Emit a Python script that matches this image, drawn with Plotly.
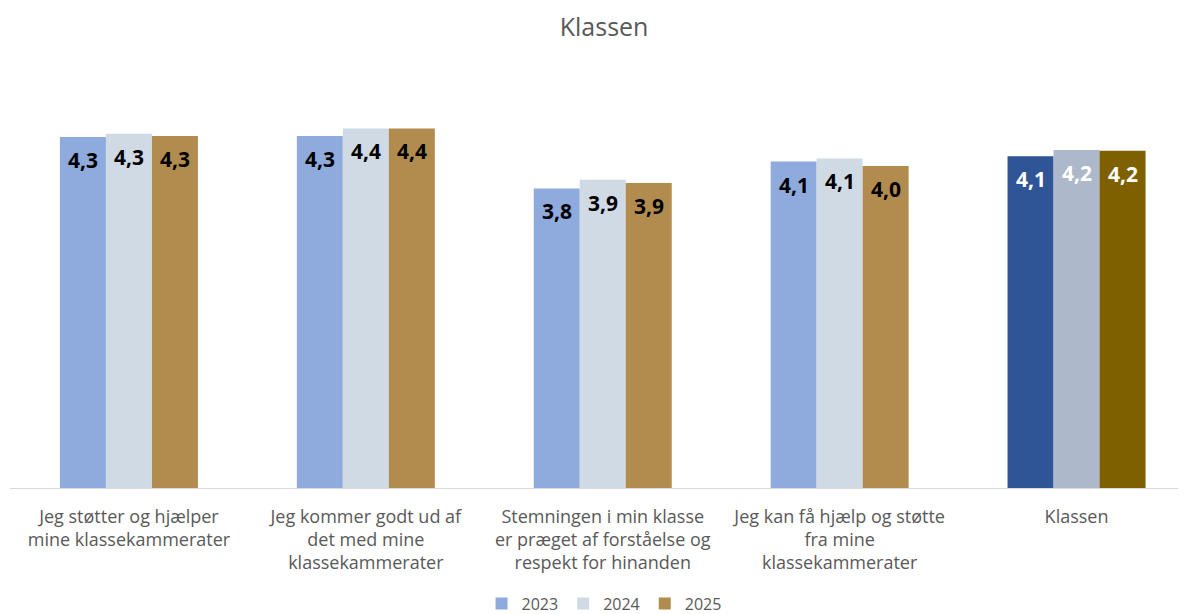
import plotly.graph_objects as go

categories = [
    "Jeg støtter og hjælper<br>mine klassekammerater",
    "Jeg kommer godt ud af<br>det med mine<br>klassekammerater",
    "Stemningen i min klasse<br>er præget af forståelse og<br>respekt for hinanden",
    "Jeg kan få hjælp og støtte<br>fra mine<br>klassekammerater",
    "Klassen",
]
years = ["2023", "2024", "2025"]
values_2023 = [4.28, 4.29, 3.80, 4.051, 4.10]
values_2024 = [4.31, 4.36, 3.88, 4.08, 4.16]
values_2025 = [4.29, 4.36, 3.851, 4.01, 4.151]

colors_main = ["#8FAADC", "#CFDAE5", "#B28C4E"]
colors_total = ["#2F5597", "#ADB9CA", "#7F6000"]

FONT = "Open Sans"
BARGAP = 0.4175

x_pos = list(range(len(categories)))
series = [values_2023, values_2024, values_2025]

fig = go.Figure()
for i, (yr, vals) in enumerate(zip(years, series)):
    bar_colors = [colors_main[i]] * (len(categories) - 1) + [colors_total[i]]
    fig.add_trace(go.Bar(
        name=yr,
        x=x_pos,
        y=vals,
        marker=dict(color=bar_colors, line=dict(width=0)),
        hoverinfo="skip",
    ))

# value labels, placed in data coordinates at the top of each bar
bar_w = (1 - BARGAP) / len(years)
annotations = []
for i, vals in enumerate(series):
    for k, v in enumerate(vals):
        is_total = k == len(categories) - 1
        annotations.append(dict(
            x=x_pos[k] + (i - 1) * bar_w,
            y=v,
            xref="x", yref="y",
            text=f"{v:.1f}".replace(".", ","),
            showarrow=False,
            yanchor="middle",
            yshift=-23,
            font=dict(family=FONT, size=21, weight="bold",
                      color="#FFFFFF" if is_total else "#000000"),
        ))

# page body has an 8px margin: figure is sized so it ends at the window edge
fig.update_layout(
    width=1178,
    height=606,
    barmode="group",
    bargap=BARGAP,
    bargroupgap=0,
    paper_bgcolor="white",
    plot_bgcolor="white",
    margin=dict(l=2, r=0, t=52, b=126, autoexpand=False),
    title=dict(text="Klassen", x=0.506, xanchor="center", y=0.9686, yanchor="middle",
               yref="container",
               font=dict(family=FONT, size=25, color="#595959")),
    font=dict(family=FONT, color="#595959"),
    showlegend=True,
    legend=dict(orientation="h", x=0.506, xanchor="center", xref="container",
                y=0.017, yanchor="middle", yref="container",
                font=dict(family=FONT, size=16, color="#595959"),
                itemwidth=30, traceorder="normal"),
    annotations=annotations,
)
fig.update_xaxes(
    range=[-0.502, 4.462],
    tickmode="array",
    tickvals=x_pos,
    ticktext=categories,
    tickfont=dict(family=FONT, size=18, color="#595959"),
    ticks="outside",
    ticklen=12,
    tickcolor="rgba(0,0,0,0)",
    showline=True,
    linecolor="#D9D9D9",
    linewidth=1,
    showgrid=False,
    zeroline=False,
    automargin=False,
    fixedrange=True,
)
fig.update_yaxes(range=[1, 5], visible=False, showgrid=False, fixedrange=True, automargin=False)

fig.write_html("out.html")
